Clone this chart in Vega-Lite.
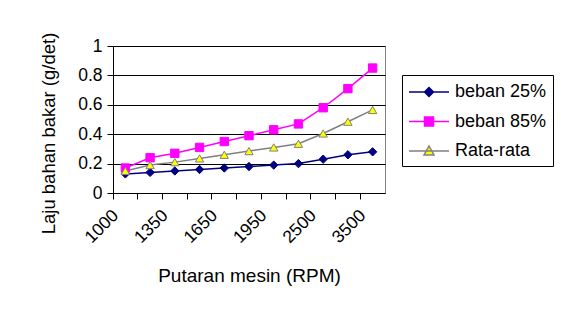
{
  "$schema": "https://vega.github.io/schema/vega-lite/v6.json",
  "autosize": "none",
  "width": 272,
  "height": 147,
  "padding": {"left": 113, "top": 46, "right": 176, "bottom": 121},
  "background": "white",
  "config": {
    "font": "Liberation Sans",
    "view": {"stroke": "#808080", "strokeWidth": 1},
    "axis": {"domainColor": "#000000", "tickColor": "#000000", "labelColor": "#000000", "titleColor": "#000000", "labelFont": "Liberation Sans", "titleFont": "Liberation Sans", "titleFontWeight": "normal"}
  },
  "data": {
    "values": [
      {"rpm": "1000", "series": "beban 25%", "value": 0.13},
      {"rpm": "1200", "series": "beban 25%", "value": 0.14},
      {"rpm": "1350", "series": "beban 25%", "value": 0.15},
      {"rpm": "1500", "series": "beban 25%", "value": 0.16},
      {"rpm": "1650", "series": "beban 25%", "value": 0.17},
      {"rpm": "1800", "series": "beban 25%", "value": 0.18},
      {"rpm": "1950", "series": "beban 25%", "value": 0.19},
      {"rpm": "2200", "series": "beban 25%", "value": 0.2},
      {"rpm": "2500", "series": "beban 25%", "value": 0.23},
      {"rpm": "3000", "series": "beban 25%", "value": 0.26},
      {"rpm": "3500", "series": "beban 25%", "value": 0.28},
      {"rpm": "1000", "series": "beban 85%", "value": 0.17},
      {"rpm": "1200", "series": "beban 85%", "value": 0.24},
      {"rpm": "1350", "series": "beban 85%", "value": 0.27},
      {"rpm": "1500", "series": "beban 85%", "value": 0.31},
      {"rpm": "1650", "series": "beban 85%", "value": 0.35},
      {"rpm": "1800", "series": "beban 85%", "value": 0.39},
      {"rpm": "1950", "series": "beban 85%", "value": 0.43},
      {"rpm": "2200", "series": "beban 85%", "value": 0.47},
      {"rpm": "2500", "series": "beban 85%", "value": 0.58},
      {"rpm": "3000", "series": "beban 85%", "value": 0.71},
      {"rpm": "3500", "series": "beban 85%", "value": 0.85},
      {"rpm": "1000", "series": "Rata-rata", "value": 0.15},
      {"rpm": "1200", "series": "Rata-rata", "value": 0.19},
      {"rpm": "1350", "series": "Rata-rata", "value": 0.21},
      {"rpm": "1500", "series": "Rata-rata", "value": 0.235},
      {"rpm": "1650", "series": "Rata-rata", "value": 0.26},
      {"rpm": "1800", "series": "Rata-rata", "value": 0.285},
      {"rpm": "1950", "series": "Rata-rata", "value": 0.31},
      {"rpm": "2200", "series": "Rata-rata", "value": 0.335},
      {"rpm": "2500", "series": "Rata-rata", "value": 0.405},
      {"rpm": "3000", "series": "Rata-rata", "value": 0.485},
      {"rpm": "3500", "series": "Rata-rata", "value": 0.565}
    ]
  },
  "encoding": {
    "x": {
      "field": "rpm", "type": "ordinal", "bandPosition": 0.5,
      "scale": {"type": "band", "paddingInner": 0, "paddingOuter": 0, "domain": ["1000","1200","1350","1500","1650","1800","1950","2200","2500","3000","3500"]},
      "axis": {
        "title": "Putaran mesin (RPM)", "titleFontSize": 19, "titleY": 88, "titleBaseline": "alphabetic",
        "bandPosition": 0, "tickSize": 6, "grid": false,
        "labelAngle": -45, "labelAlign": "right", "labelBaseline": "alphabetic", "labelPadding": 17, "labelOffset": -6,
        "labelFontSize": 17.5,
        "labelExpr": "indexof(['1000','1350','1650','1950','2500','3500'], datum.label) >= 0 ? datum.label : ''"
      }
    },
    "y": {
      "field": "value", "type": "quantitative",
      "scale": {"domain": [0, 1], "nice": false, "zero": true},
      "axis": {
        "title": "Laju bahan bakar (g/det)", "titleFontSize": 18.5, "titleX": -65, "titleY": 87, "titleAngle": -90, "titleAlign": "center", "titleBaseline": "middle",
        "values": [0, 0.2, 0.4, 0.6, 0.8, 1], "format": ".1~f", "labelFontSize": 17.5, "labelPadding": 5, "tickSize": 6,
        "grid": true, "gridColor": "#000000", "gridWidth": 1
      }
    }
  },
  "layer": [
    {
      "mark": {"type": "line", "strokeWidth": 1.5},
      "encoding": {
        "color": {"field": "series", "type": "nominal", "scale": {"domain": ["beban 25%", "beban 85%", "Rata-rata"], "range": ["#000080", "#FF00FF", "#808080"]}, "legend": null}
      }
    },
    {
      "mark": {"type": "point", "filled": false, "opacity": 1, "size": 70, "strokeWidth": 1},
      "encoding": {
        "shape": {"field": "series", "type": "nominal", "scale": {"domain": ["beban 25%", "beban 85%", "Rata-rata"], "range": ["diamond", "square", "triangle-up"]}, "legend": null},
        "fill": {"field": "series", "type": "nominal", "scale": {"domain": ["beban 25%", "beban 85%", "Rata-rata"], "range": ["#000080", "#FF00FF", "#FFFF00"]}, "legend": null},
        "stroke": {"field": "series", "type": "nominal", "scale": {"domain": ["beban 25%", "beban 85%", "Rata-rata"], "range": ["#000080", "#FF00FF", "#808080"]}, "legend": null}
      }
    },
    {
      "transform": [{"filter": "datum.value < 0"}],
      "mark": {"type": "point", "filled": false, "opacity": 1, "size": 400, "strokeWidth": 1.5},
      "encoding": {
        "shape": {"field": "series", "type": "nominal", "title": null,
          "scale": {"domain": ["beban 25%", "beban 85%", "Rata-rata"], "range": ["M-1,0H3M0.55,0L1,-0.45L1.45,0L1,0.45Z", "M-1,0H3M0.55,-0.45H1.45V0.45H0.55Z", "M-1,0H3M1,-0.5L1.5,0.4H0.5Z"]},
          "legend": {"orient": "none", "legendX": 289, "legendY": 29, "strokeColor": "#000000", "padding": 6, "symbolSize": 400, "symbolStrokeWidth": 1.5, "rowPadding": 9.5, "labelOffset": 25, "labelFontSize": 18, "labelFont": "Liberation Sans", "labelColor": "#000000", "fillColor": "white"}},
        "fill": {"field": "series", "type": "nominal", "title": null, "scale": {"domain": ["beban 25%", "beban 85%", "Rata-rata"], "range": ["#000080", "#FF00FF", "#FFFF00"]}},
        "stroke": {"field": "series", "type": "nominal", "title": null, "scale": {"domain": ["beban 25%", "beban 85%", "Rata-rata"], "range": ["#000080", "#FF00FF", "#808080"]}}
      }
    }
  ],
  "resolve": {"scale": {"shape": "independent", "fill": "independent", "stroke": "independent"}}
}
